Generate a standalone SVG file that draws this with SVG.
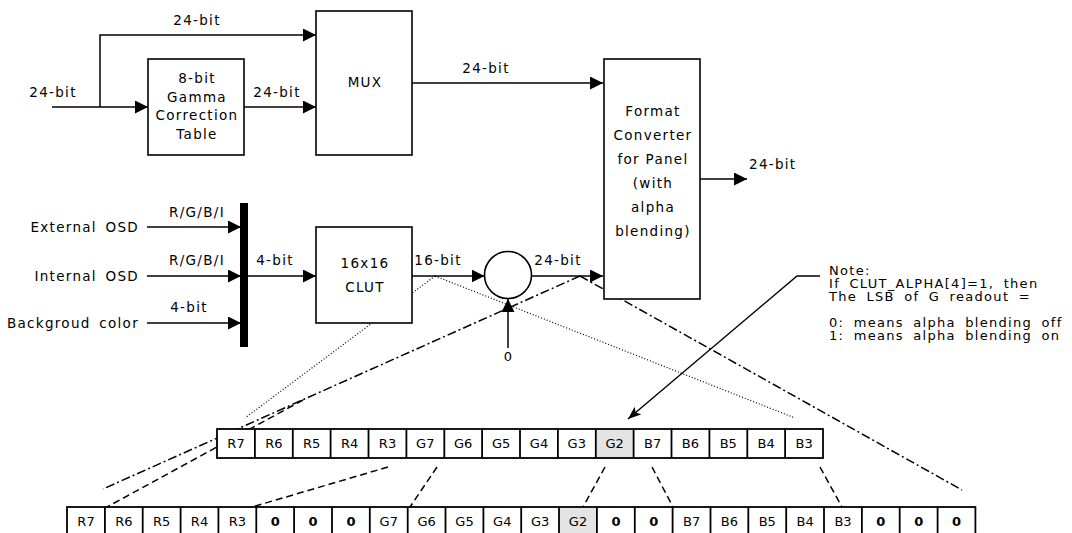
<svg xmlns="http://www.w3.org/2000/svg" width="1072" height="533" viewBox="0 0 1072 533">
<style>
text{font-family:"DejaVu Sans",Verdana,sans-serif;font-size:13px;fill:#000}
.lb{font-size:13.5px;letter-spacing:1.3px}
.m{text-anchor:middle}
.e{text-anchor:end}
.box{fill:#fff;stroke:#000;stroke-width:1.6}
.w{fill:none;stroke:#000;stroke-width:1.5}
.dot{fill:none;stroke:#000;stroke-width:1.2;stroke-dasharray:1 2}
.dd{fill:none;stroke:#000;stroke-width:1.5;stroke-dasharray:9 3 2 3}
.ds{fill:none;stroke:#000;stroke-width:1.5;stroke-dasharray:7 4}
.cell{fill:#fff;stroke:#000;stroke-width:1.8}
.sh{fill:#e4e4e4}
.b{font-weight:bold}
.note{font-size:13px;letter-spacing:1.3px;word-spacing:4px}
</style>
<defs>
<marker id="ah" markerUnits="userSpaceOnUse" markerWidth="14" markerHeight="13" refX="13" refY="6.5" orient="auto">
<path d="M0,0 L13,6.5 L0,13 z" fill="#000"/>
</marker>
<marker id="ah2" markerUnits="userSpaceOnUse" markerWidth="14" markerHeight="12" refX="13" refY="5" orient="auto">
<path d="M0,0 L13,5 L0,10 L3,5 z" fill="#000"/>
</marker>
</defs>

<g id="connectors">
<path class="w" d="M52,107 H148" marker-end="url(#ah)"/>
<path class="w" d="M100,107 V35 H316" marker-end="url(#ah)"/>
<path class="w" d="M244,107 H316" marker-end="url(#ah)"/>
<path class="w" d="M412,83 H603" marker-end="url(#ah)"/>
<path class="w" d="M700,179 H747" marker-end="url(#ah)"/>
<path class="w" d="M147,227 H241" marker-end="url(#ah)"/>
<path class="w" d="M147,276 H241" marker-end="url(#ah)"/>
<path class="w" d="M147,323 H241" marker-end="url(#ah)"/>
<path class="w" d="M248,276 H316" marker-end="url(#ah)"/>
<path class="w" d="M412,276 H484.5" marker-end="url(#ah)"/>
<path class="w" d="M531.5,276 H603" marker-end="url(#ah)"/>
<path class="w" d="M508,348 V299" marker-end="url(#ah)"/>
<path class="dot" d="M435,276 L245,418 M435,276 L795,418"/>
<path class="dd" d="M580,276 L103,489 M580,276 L962,490"/>
<path class="ds" d="M303,400 L107,507"/>
<path class="ds" d="M388,467 L252,507"/>
<path class="ds" d="M437,467 L410,507"/>
<path class="ds" d="M605,467 L583,507"/>
<path class="ds" d="M652,467 L673,507"/>
<path class="ds" d="M820,467 L842,507"/>
<path fill="none" stroke="#000" stroke-width="1.4" d="M820,276 H797 L628,419" marker-end="url(#ah2)"/>
</g>

<g id="labels">
<text class="lb m" x="197" y="25">24-bit</text>
<text class="lb m" x="53" y="97">24-bit</text>
<text class="lb m" x="277" y="97">24-bit</text>
<text class="lb m" x="486" y="73">24-bit</text>
<text class="lb" x="749" y="169">24-bit</text>
<text class="lb m" x="197" y="217">R/G/B/I</text>
<text class="lb m" x="197" y="265">R/G/B/I</text>
<text class="lb m" x="189" y="312">4-bit</text>
<text class="lb m" x="275" y="265">4-bit</text>
<text class="lb m" x="438" y="265">16-bit</text>
<text class="lb m" x="558" y="265">24-bit</text>
<text class="m" x="508" y="361">0</text>
</g>

<g id="inputs">
<text class="lb e" x="139" y="232" word-spacing="3">External OSD</text>
<text class="lb e" x="139" y="281" word-spacing="3">Internal OSD</text>
<text class="lb e" x="139" y="328" word-spacing="3">Backgroud color</text>
</g>

<g id="gamma">
<rect class="box" x="148" y="59" width="96" height="96"/>
<text class="lb m" x="197" y="83">8-bit</text>
<text class="lb m" x="197" y="101.5">Gamma</text>
<text class="lb m" x="197" y="120">Correction</text>
<text class="lb m" x="197" y="138.5">Table</text>
</g>

<g id="mux">
<rect class="box" x="316" y="11" width="96" height="144"/>
<text class="lb m" x="365" y="87">MUX</text>
</g>

<g id="converter">
<rect class="box" x="604" y="59" width="96" height="240"/>
<text class="lb m" x="653" y="116">Format</text>
<text class="lb m" x="653" y="140">Converter</text>
<text class="lb m" x="653" y="164">for Panel</text>
<text class="lb m" x="653" y="188">(with</text>
<text class="lb m" x="653" y="212">alpha</text>
<text class="lb m" x="653" y="236">blending)</text>
</g>

<g id="bar">
<rect x="240" y="203" width="8" height="144" fill="#000"/>
</g>

<g id="clut">
<rect class="box" x="316" y="227" width="96" height="96"/>
<text class="lb m" x="365" y="268">16x16</text>
<text class="lb m" x="365" y="292">CLUT</text>
</g>

<g id="adder">
<circle cx="508" cy="275" r="23.5" fill="#fff" stroke="#000" stroke-width="1.6"/>
</g>

<g id="note">
<text class="note" x="829" y="275">Note:</text>
<text class="note" x="829" y="288">If CLUT_ALPHA[4]=1, then</text>
<text class="note" x="829" y="301">The LSB of G readout =</text>
<text class="note" x="829" y="327">0: means alpha blending off</text>
<text class="note" x="829" y="340">1: means alpha blending on</text>
</g>

<g id="row16">
<rect class="cell" x="217" y="429" width="606" height="29"/>
<rect class="sh" x="596" y="430" width="37.9" height="27"/>
<path stroke="#000" stroke-width="1.8" d="M254.9,429V458M292.8,429V458M330.6,429V458M368.5,429V458M406.4,429V458M444.3,429V458M482.1,429V458M520,429V458M557.9,429V458M595.8,429V458M633.6,429V458M671.5,429V458M709.4,429V458M747.3,429V458M785.1,429V458"/>
<text class="m" x="236" y="448">R7</text><text class="m" x="273.9" y="448">R6</text><text class="m" x="311.7" y="448">R5</text><text class="m" x="349.6" y="448">R4</text>
<text class="m" x="387.5" y="448">R3</text><text class="m" x="425.3" y="448">G7</text><text class="m" x="463.2" y="448">G6</text><text class="m" x="501.1" y="448">G5</text>
<text class="m" x="539" y="448">G4</text><text class="m" x="576.8" y="448">G3</text><text class="m" x="614.7" y="448">G2</text><text class="m" x="652.6" y="448">B7</text>
<text class="m" x="690.4" y="448">B6</text><text class="m" x="728.3" y="448">B5</text><text class="m" x="766.2" y="448">B4</text><text class="m" x="804.1" y="448">B3</text>
</g>

<g id="row24">
<rect class="cell" x="67" y="507" width="908.4" height="30"/>
<rect class="sh" x="559" y="508" width="37.9" height="26"/>
<path stroke="#000" stroke-width="1.8" d="M104.9,507V537M142.7,507V537M180.6,507V537M218.4,507V537M256.3,507V537M294.1,507V537M332,507V537M369.8,507V537M407.7,507V537M445.5,507V537M483.4,507V537M521.2,507V537M559,507V537M596.9,507V537M634.8,507V537M672.6,507V537M710.5,507V537M748.3,507V537M786.2,507V537M824,507V537M861.9,507V537M899.7,507V537M937.6,507V537"/>
<text class="m" x="86" y="526">R7</text><text class="m" x="123.8" y="526">R6</text><text class="m" x="161.7" y="526">R5</text><text class="m" x="199.5" y="526">R4</text>
<text class="m" x="237.4" y="526">R3</text><text class="m b" x="275.2" y="526">0</text><text class="m b" x="313.1" y="526">0</text><text class="m b" x="350.9" y="526">0</text>
<text class="m" x="388.8" y="526">G7</text><text class="m" x="426.6" y="526">G6</text><text class="m" x="464.5" y="526">G5</text><text class="m" x="502.3" y="526">G4</text>
<text class="m" x="540.1" y="526">G3</text><text class="m" x="578" y="526">G2</text><text class="m b" x="615.9" y="526">0</text><text class="m b" x="653.7" y="526">0</text>
<text class="m" x="691.6" y="526">B7</text><text class="m" x="729.4" y="526">B6</text><text class="m" x="767.3" y="526">B5</text><text class="m" x="805.1" y="526">B4</text>
<text class="m" x="843" y="526">B3</text><text class="m b" x="880.8" y="526">0</text><text class="m b" x="918.7" y="526">0</text><text class="m b" x="956.5" y="526">0</text>
</g>
</svg>
